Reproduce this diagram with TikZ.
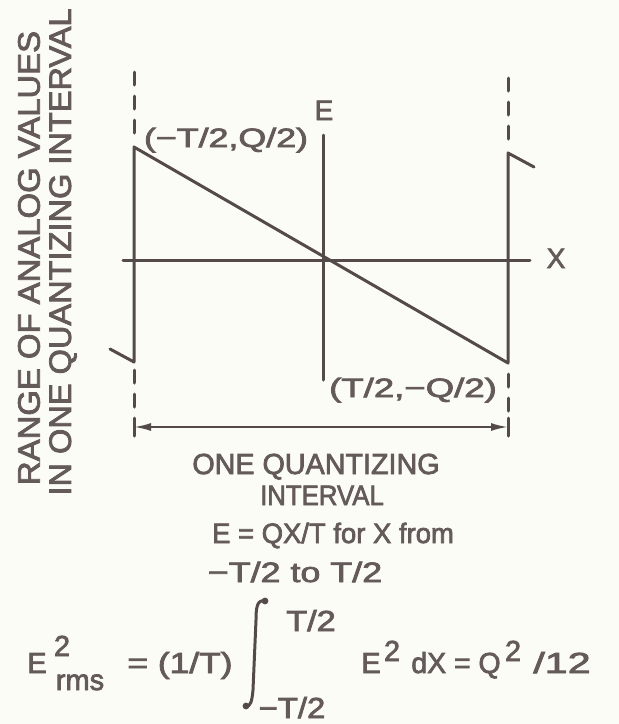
\documentclass[tikz,border=0pt]{standalone}
\usepackage{fontspec}
\setmainfont[FakeBold=2.5]{Liberation Sans}
\usepackage{graphicx}
\usetikzlibrary{arrows.meta}
\definecolor{ink}{RGB}{84,74,74}
\definecolor{txt}{RGB}{100,90,90}
\definecolor{paper}{RGB}{252,252,246}
\newcommand{\hs}[2]{\scalebox{#1}[1]{#2}}
\begin{document}
\begin{tikzpicture}[x=1pt,y=-1pt,
  lbl/.style={text=txt, inner sep=0pt, anchor=base, font=\fontsize{28}{30}\selectfont},
  biglbl/.style={text=txt, inner sep=0pt, font=\fontsize{31}{33}\selectfont, rotate=90},
  fml/.style={text=txt, inner sep=0pt, anchor=base, font=\fontsize{29}{31}\selectfont},
  solidline/.style={draw=ink, line width=3pt, line cap=round, line join=round},
  dashline/.style={draw=ink, line width=3pt, line cap=round, dash pattern=on 13pt off 11pt},
  barline/.style={draw=ink, line width=3pt, line cap=round},
  dimline/.style={draw=ink, line width=2pt, {Latex[length=17pt,width=8pt]}-{Latex[length=17pt,width=8pt]}}
]
\fill[paper] (0,0) rectangle (619,724);
\useasboundingbox (0,0) rectangle (619,724);

% key points
\coordinate (hookL) at (110,349);
\coordinate (botL) at (134,362);
\coordinate (topL) at (134,147);
\coordinate (botR) at (508,363);
\coordinate (topR) at (508,153);
\coordinate (hookR) at (534,167);
\coordinate (eTop) at (323,135);
\coordinate (eBot) at (323,380);
\coordinate (xL) at (123,260);
\coordinate (xR) at (530,260);
\coordinate (dL1) at (134,72);
\coordinate (dL2) at (134,140);
\coordinate (dL3) at (134,370);
\coordinate (dL4) at (134,410);
\coordinate (dR1) at (508,78);
\coordinate (dR2) at (508,145);
\coordinate (dR3) at (508,374);
\coordinate (dR4) at (508,413);
\coordinate (aL) at (134,427);
\coordinate (aR) at (508,427);
\coordinate (bL1) at (134,418);
\coordinate (bL2) at (134,436);
\coordinate (bR1) at (508,418);
\coordinate (bR2) at (508,436);

% sawtooth
\path[solidline] (hookL) -- (botL) -- (topL) -- (botR) -- (topR) -- (hookR);
% axes
\path[solidline] (eTop) -- (eBot);
\path[solidline] (xL) -- (xR);
% dashed boundaries
\path[dashline] (dL1) -- (dL2);
\path[dashline] (dL3) -- (dL4);
\path[dashline] (dR1) -- (dR2);
\path[dashline] (dR3) -- (dR4);
% dimension arrow
\path[barline] (bL1) -- (bL2);
\path[barline] (bR1) -- (bR2);
\path[dimline] (aL) -- (aR);

% axis labels
\node[lbl] (lE) at (324,120) {E};
\node[lbl] (lX) at (556,268) {X};
\node[lbl, font=\fontsize{26.5}{28}\selectfont] (lP1) at (226,147) {\hs{1.35}{(−T/2,Q/2)}};
\node[lbl, font=\fontsize{26.5}{28}\selectfont] (lP2) at (413,397) {\hs{1.38}{(T/2,−Q/2)}};

% vertical label
\node[biglbl] (v1) at (29,258) {\hs{1.06}{RANGE OF ANALOG VALUES}};
\node[biglbl] (v2) at (63,252) {\hs{1.05}{IN ONE QUANTIZING INTERVAL}};

% caption
\node[lbl, font=\fontsize{29}{31}\selectfont] (c1) at (316,474) {\hs{0.99}{ONE QUANTIZING}};
\node[lbl] (c2) at (322,505) {\hs{0.92}{INTERVAL}};
\node[lbl] (c3) at (333,543) {\hs{0.98}{E = QX/T for X from}};
\node[lbl] (c4) at (295,582) {\hs{1.28}{−T/2 to T/2}};

% formula
\node[fml] (fE) at (37,673) {E};
\node[fml] (fE2) at (62,656) {2};
\node[fml] (frms) at (80,690) {rms};
\node[fml] (feq) at (180,673) {\hs{1.22}{= (1/T)}};
\node[fml] (fup) at (311,631) {\hs{1.18}{T/2}};
\node[fml] (flo) at (292,718) {\hs{1.13}{−T/2}};
\node[fml] (fE3) at (371,673) {E};
\node[fml] (fE32) at (392,661) {2};
\node[fml] (fdx) at (456,673) {\hs{0.98}{dX = Q}};
\node[fml] (fQ2) at (513,661) {2};
\node[fml] (f12) at (562,673) {\hs{1.42}{/12}};

% integral sign
\coordinate (iTop) at (265,601);
\coordinate (iBot) at (246,706);
\path[draw=ink, line width=3pt, line cap=round] (iTop) .. controls (257,599) and (256,608) .. (256,620) -- (253,690) .. controls (252,702) and (250,707) .. (iBot);
\fill[ink] (iTop) circle (3.4pt);
\fill[ink] (iBot) circle (3.4pt);
\end{tikzpicture}
\end{document}
